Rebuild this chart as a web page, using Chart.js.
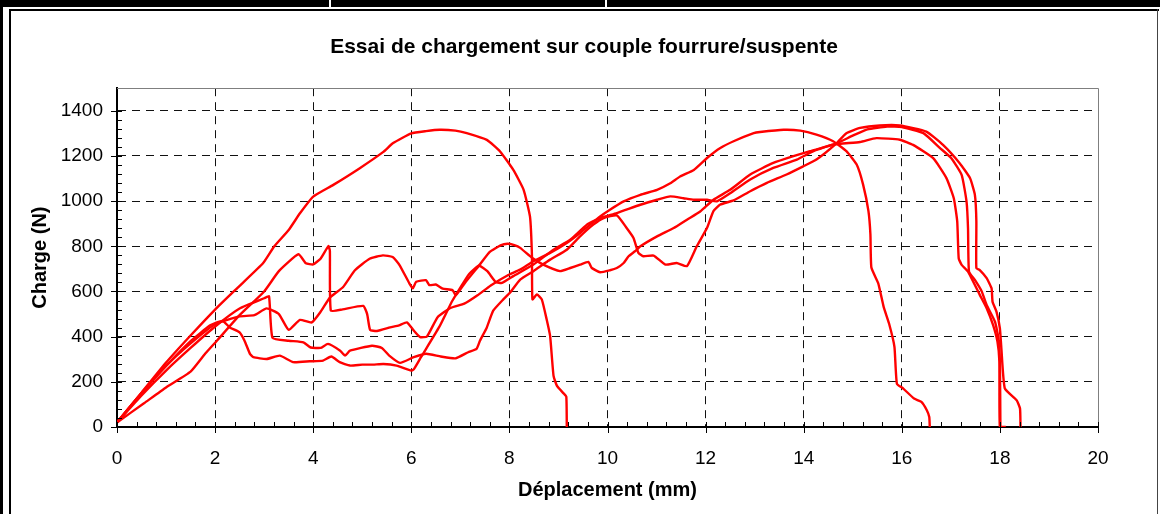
<!DOCTYPE html>
<html>
<head>
<meta charset="utf-8">
<script src="https://cdn.jsdelivr.net/npm/chart.js@4.4.1/dist/chart.umd.min.js"></script>
<style>
html,body{margin:0;padding:0;background:#fff;}
#wrap{position:relative;width:1160px;height:514px;overflow:hidden;background:#fff;}
#c{position:absolute;left:0;top:0;}
.bar{position:absolute;background:#000;}
.gap{position:absolute;background:#fff;}
</style>
</head>
<body>
<div id="wrap">
<canvas id="c" width="1160" height="514"></canvas>
<div class="bar" style="left:0;top:0;width:1160px;height:7px"></div>
<div class="gap" style="left:329px;top:0;width:2px;height:7px"></div>
<div class="gap" style="left:605px;top:0;width:2px;height:7px"></div>
<div class="bar" style="left:0;top:0;width:3px;height:514px"></div>
<div class="bar" style="left:9px;top:9px;width:2px;height:505px"></div>
<div class="bar" style="left:9px;top:9px;width:1150px;height:2px"></div>
<div class="bar" style="left:1157px;top:9px;width:1px;height:505px;background:#444"></div>
</div>
<script>
// ---- data (Déplacement in mm, Charge in N) ----
const chartTitle = 'Essai de chargement sur couple fourrure/suspente';
const xTitle = 'Déplacement (mm)';
const yTitle = 'Charge (N)';
const xTicks = [0, 2, 4, 6, 8, 10, 12, 14, 16, 18, 20];
const yTicks = [0, 200, 400, 600, 800, 1000, 1200, 1400];

const dispA = [0,0.5,1,1.5,2,2.5,2.98,3.2,3.5,3.73,4,4.41,4.95,5.43,5.63,6.0,6.3,6.58,6.9,7.13,7.54,7.81,8.08,8.29,8.42,8.46,8.47,8.56,8.66,8.76,8.83,8.9,8.97,9.1,9.16,9.17];
const chargeA = [20,152,285,405,520,625,726,798,872,946,1020,1072,1146,1218,1257,1300,1310,1316,1312,1301,1271,1220,1138,1050,931,756,565,587,565,476,403,226,182,150,134,0];

const dispB = [0,0.55,1,1.5,1.8,2.05,2.5,3.0,3.3,3.7,3.85,4.0,4.15,4.31,4.34,4.36,4.6,5.02,5.1,5.16,5.3,5.57,5.75,5.91,6.05,6.18,6.32,6.54,6.81,7.08,7.35,7.62,7.96,8.22,8.49,8.83,9.17,9.44,9.85,10.05,10.33,10.67,11.01,11.28,11.48,11.76,12.03,12.3,12.57,12.98,13.11,13.59,13.93,14.26,14.6,14.87,15.08,15.21,15.32,15.36,15.38,15.52,15.63,15.74,15.85,15.9,16.03,16.25,16.4,16.51,16.56,16.57];
const chargeB = [20,105,175,245,325,385,495,600,690,765,725,720,745,801,780,515,521,536,500,430,425,441,450,463,427,398,401,487,528,546,583,627,671,697,734,771,815,859,932,962,999,1028,1050,1079,1109,1138,1191,1235,1265,1301,1306,1316,1312,1294,1265,1221,1162,1074,956,853,706,636,532,458,355,192,170,126,111,74,44,0];

const dispC = [0,0.5,1,1.5,2,2.5,2.8,3.05,3.3,3.5,3.73,3.97,4.15,4.34,4.61,4.85,5.15,5.42,5.62,5.76,5.96,6.03,6.1,6.3,6.37,6.5,6.64,6.84,6.91,7.1,7.4,7.6,7.82,7.96,8.1,8.22,8.46,8.69,9.03,9.24,9.44,9.61,9.68,9.85,10.05,10.19,10.33,10.43,10.56,10.67,11.01,11.35,11.62,11.89,12.16,12.5,12.91,13.38,13.79,14.13,14.64,15.0,15.3,15.7,16.0,16.44,16.78,17.01,17.22,17.32,17.35,17.37,17.49,17.63,17.73,17.9,17.97,18.0,18.01];
const chargeC = [20,150,270,370,455,490,495,525,500,430,474,463,510,573,620,694,745,760,753,717,636,614,643,650,628,631,613,606,584,640,720,775,804,811,805,793,749,719,690,704,719,731,704,685,694,704,726,756,778,800,844,881,918,954,1006,1050,1118,1169,1199,1221,1253,1290,1318,1330,1328,1301,1235,1190,1116,998,880,688,651,600,540,466,393,289,0];

const dispD = [0,0.5,1,1.5,2,2.5,3.0,3.1,3.17,3.5,3.8,3.95,4.15,4.3,4.55,4.65,4.75,5.2,5.4,5.55,5.77,6.05,6.3,6.6,6.9,7.16,7.33,7.4,7.54,7.67,7.88,8.01,8.22,8.49,8.83,9.17,9.44,9.71,9.92,10.19,10.39,10.53,10.63,10.73,10.94,11.18,11.41,11.62,11.82,12.03,12.16,12.3,12.57,12.91,13.25,13.65,13.99,14.26,14.64,14.87,15.15,15.55,15.96,16.5,16.84,17.18,17.39,17.49,17.52,17.52,17.59,17.73,17.83,17.85,17.93,18.0,18.03,18.1,18.34,18.41,18.42];
const chargeD = [20,140,250,350,445,525,570,578,395,382,375,352,350,368,338,316,338,360,350,316,284,309,324,312,304,331,346,382,441,515,566,594,653,690,741,785,844,896,925,937,881,837,771,756,759,719,726,712,800,882,956,985,1003,1044,1081,1118,1154,1184,1250,1301,1324,1335,1335,1308,1249,1168,1102,1028,910,703,695,659,614,555,511,437,348,171,119,82,0];

const dispE = [0,0.5,1,1.5,1.9,2.15,2.3,2.5,2.6,2.71,2.78,3.05,3.32,3.59,3.93,4.2,4.37,4.54,4.75,5.0,5.22,5.43,5.7,6.0,6.05,6.2,6.57,6.84,7.18,7.38,7.55,7.72,7.85,8.08,8.49,8.9,9.24,9.58,9.85,10.19,10.67,11.01,11.28,11.55,11.76,12.03,12.23,12.5,12.91,13.38,13.86,14.2,14.6,15.15,15.48,15.96,16.23,16.64,16.91,17.06,17.13,17.16,17.22,17.35,17.59,17.73,17.86,17.95,17.99,18.0,18.12];
const chargeE = [20,150,270,380,450,470,441,419,382,324,309,301,316,287,291,294,312,287,272,276,276,279,272,250,255,310,443,560,678,714,690,642,638,668,719,785,829,896,925,947,984,1006,1021,1013,1006,1006,999,1035,1096,1147,1184,1221,1250,1262,1279,1272,1249,1190,1102,1013,910,747,718,688,585,526,452,378,289,0,0];

const series = [
  [dispA, chargeA], [dispB, chargeB], [dispC, chargeC], [dispD, chargeD], [dispE, chargeE]
];

const FONT = "'Liberation Sans', Arial, sans-serif";

const frameAndTicks = {
  id: 'frameAndTicks',
  afterDraw(chart) {
    const {ctx, chartArea: ca, scales: {x, y}} = chart;
    ctx.save();
    // plot area frame (top & right)
    ctx.strokeStyle = '#7f7f7f';
    ctx.lineWidth = 1;
    ctx.beginPath();
    ctx.moveTo(ca.left, Math.round(ca.top) + 0.5);
    ctx.lineTo(Math.round(ca.right) + 0.5, Math.round(ca.top) + 0.5);
    ctx.lineTo(Math.round(ca.right) + 0.5, ca.bottom);
    ctx.stroke();
    // tick marks
    ctx.strokeStyle = '#000';
    ctx.lineWidth = 1;
    ctx.beginPath();
    const xMin = xTicks[0], xMax = xTicks[xTicks.length - 1];
    const xStep = (xTicks[1] - xTicks[0]) / 5;
    const nx = Math.round((xMax - xMin) / xStep);
    for (let i = 0; i <= nx; i++) {
      const px = Math.round(x.getPixelForValue(xMin + i * xStep)) + 0.5;
      const major = i % 5 === 0;
      ctx.moveTo(px, ca.bottom - 5);
      ctx.lineTo(px, ca.bottom + (major ? 6 : 0));
    }
    const yStep = (yTicks[1] - yTicks[0]) / 5;
    const ny = Math.round((yTicks[yTicks.length - 1] - yTicks[0]) / yStep);
    for (let i = 0; i <= ny; i++) {
      const py = Math.round(y.getPixelForValue(yTicks[0] + i * yStep)) + 0.5;
      const major = i % 5 === 0;
      ctx.moveTo(ca.left - (major ? 6 : 0), py);
      ctx.lineTo(ca.left + 5, py);
    }
    ctx.stroke();
    ctx.restore();
  }
};

new Chart(document.getElementById('c'), {
  type: 'line',
  data: {
    datasets: series.map(([xs, ys]) => ({
      data: xs.map((v, i) => ({x: v, y: ys[i]})),
      xAxisID: 'x',
      yAxisID: 'y',
      borderColor: '#ff0000',
      backgroundColor: '#ff0000',
      borderWidth: 2.4,
      pointRadius: 0,
      tension: 0.15,
      fill: false
    }))
  },
  options: {
    responsive: false,
    animation: false,
    devicePixelRatio: 1,
    layout: {padding: {left: 8, right: 0, top: 0, bottom: 0}},
    plugins: {
      legend: {display: false},
      tooltip: {enabled: false},
      title: {
        display: true,
        text: chartTitle,
        color: '#000',
        font: {family: FONT, size: 21, weight: 'bold', lineHeight: 1.2},
        padding: {top: 35, bottom: 28}
      }
    },
    scales: {
      x: {
        type: 'linear',
        min: 0, max: 20,
        afterBuildTicks: s => { s.ticks = xTicks.map(v => ({value: v})); },
        afterFit: s => { s.height = 87; },
        ticks: {color: '#000', font: {family: FONT, size: 19}, padding: 20, maxRotation: 0, autoSkip: false,
                callback: v => String(v)},
        grid: {
          color: c => (c.tick && (c.tick.value === 0 || c.tick.value === 20)) ? 'rgba(0,0,0,0)' : '#111',
          lineWidth: 1,
          drawTicks: false
        },
        border: {display: true, color: '#000', width: 2, dash: [8, 6]},
        title: {display: true, text: xTitle, color: '#000', font: {family: FONT, size: 20, weight: 'bold', lineHeight: 1.2}, padding: {top: 0, bottom: 12}}
      },
      y: {
        type: 'linear',
        position: 'left',
        min: 0, max: 1500,
        afterBuildTicks: s => { s.ticks = yTicks.map(v => ({value: v})); },
        afterFit: s => { s.width = 109; },
        ticks: {color: '#000', font: {family: FONT, size: 19}, padding: 14, callback: v => String(v)},
        grid: {
          color: c => (c.tick && c.tick.value === 0) ? 'rgba(0,0,0,0)' : '#111',
          lineWidth: 1,
          drawTicks: false
        },
        border: {display: true, color: '#000', width: 2, dash: [8, 6]},
        title: {display: true, text: yTitle, color: '#000', font: {family: FONT, size: 20, weight: 'bold', lineHeight: 1.2}, padding: {top: 20, bottom: 0}}
      },
      yRight: {
        type: 'linear',
        position: 'right',
        min: 0, max: 1500,
        display: true,
        afterFit: s => { s.width = 62; },
        ticks: {display: false},
        grid: {display: false, drawTicks: false},
        border: {display: false}
      }
    }
  },
  plugins: [frameAndTicks]
});
</script>
</body>
</html>
